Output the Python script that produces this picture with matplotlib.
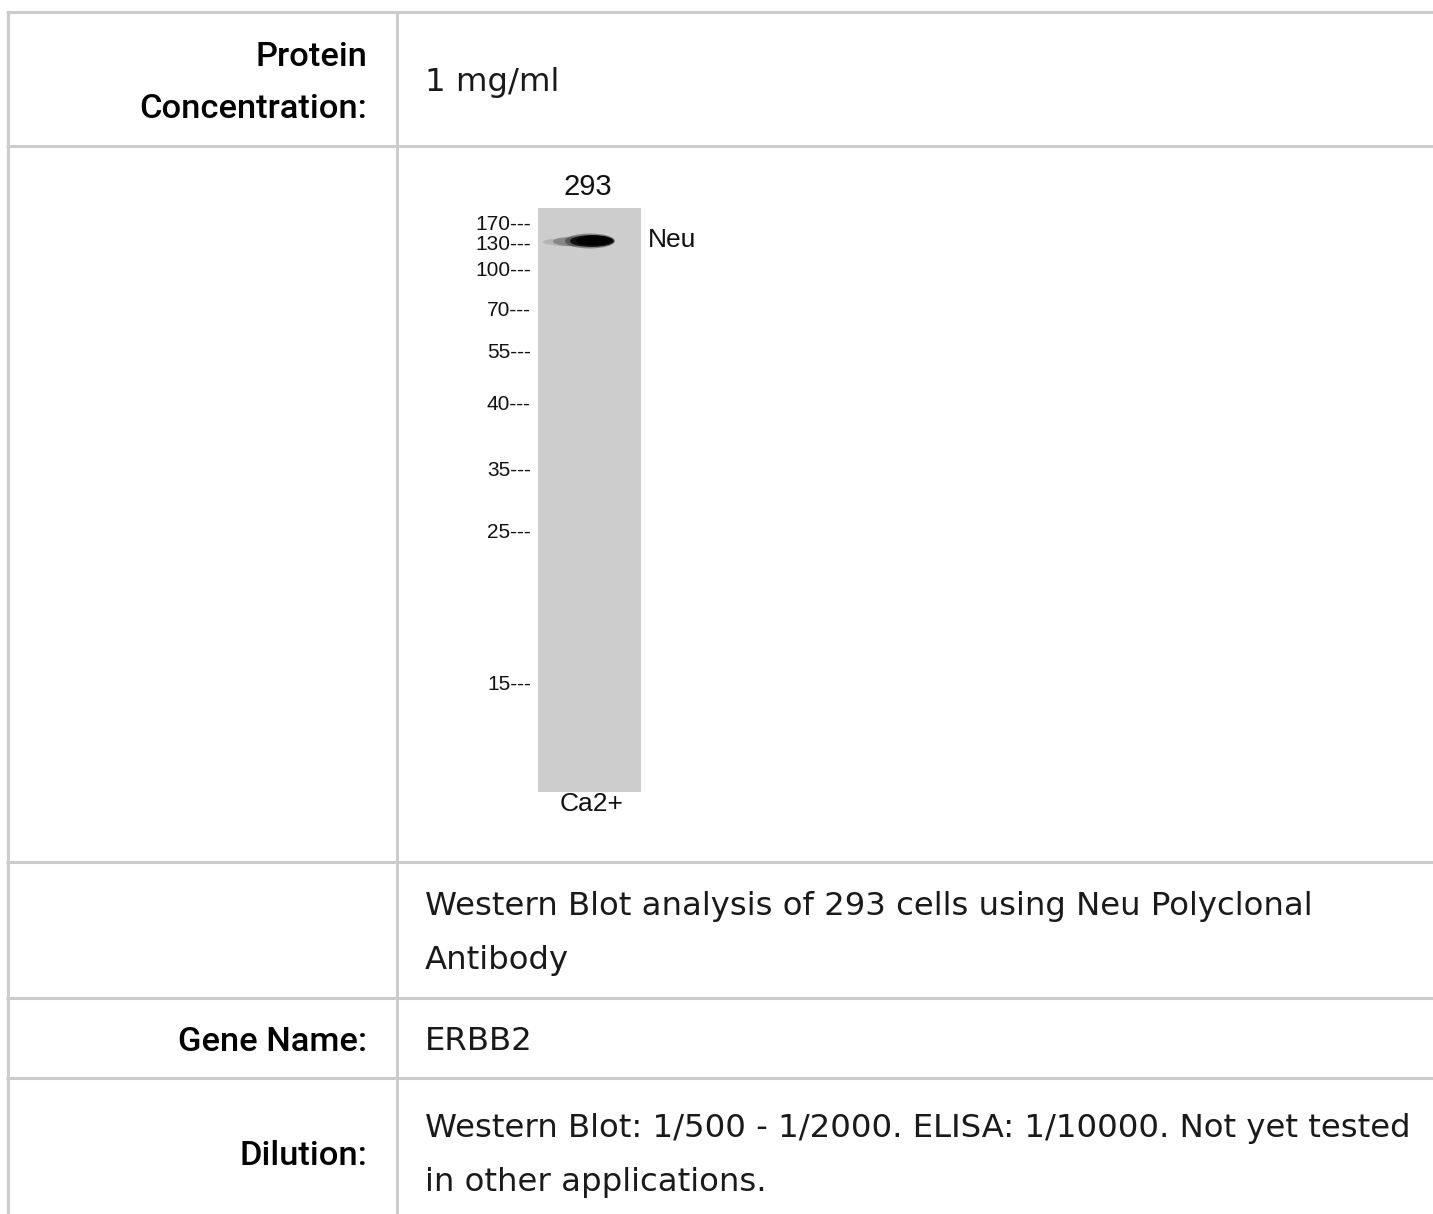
import matplotlib.pyplot as plt
from matplotlib.patches import Rectangle, Ellipse

# table contents
row_labels = [["Protein", "Concentration:"], [], [], ["Gene Name:"], ["Dilution:"]]
row_values = [
    ["1 mg/ml"],
    [],
    ["Western Blot analysis of 293 cells using Neu Polyclonal", "Antibody"],
    ["ERBB2"],
    ["Western Blot: 1/500 - 1/2000. ELISA: 1/10000. Not yet tested", "in other applications."],
]

# blot contents
lane_name = "293"
lane_treatment = "Ca2+"
band_name = "Neu"
marker_labels = ["170", "130", "100", "70", "55", "40", "35", "25", "15"]
marker_y = [224, 245, 271, 310, 352, 404, 470, 533, 685]

W, H = 1433, 1214
LINE = "#cccccc"
row_edges = [12, 146, 862, 998, 1078, 1226]
col_x = [8, 397]
LABEL_FONT = ["Roboto", "DejaVu Sans"]
VALUE_FONT = ["DejaVu Sans"]
BLOT_FONT = ["Liberation Sans", "DejaVu Sans"]

fig = plt.figure(figsize=(W / 100, H / 100), dpi=100)
ax = fig.add_axes([0, 0, 1, 1])
ax.set_xlim(0, W)
ax.set_ylim(H, 0)
ax.axis("off")

# grid lines
for y in row_edges[:-1]:
    ax.plot([col_x[0] - 1.5, W], [y, y], color=LINE, lw=2.2, solid_capstyle="butt")
for x in col_x:
    ax.plot([x, x], [row_edges[0], H], color=LINE, lw=2.2, solid_capstyle="butt")

# text rows (placed on baselines)
for i in range(len(row_labels)):
    center = (row_edges[i] + row_edges[i + 1]) / 2
    labels = row_labels[i]
    for j, text in enumerate(labels):
        y = center + 13 + (j - (len(labels) - 1) / 2) * 53
        ax.text(367, y, text, ha="right", va="baseline", fontsize=24.8,
                family=LABEL_FONT, weight="medium", color="#000000")
    values = row_values[i]
    for j, text in enumerate(values):
        y = center + 12 + (j - (len(values) - 1) / 2) * 55
        ax.text(425, y, text, ha="left", va="baseline", fontsize=23.3,
                family=VALUE_FONT, color="#1a1a1a")

# western blot lane
ax.add_patch(Rectangle((538, 208), 103, 584, facecolor="#cdcdcd", edgecolor="none"))

# band with a faded tail on the left
ax.add_patch(Ellipse((568, 242), 50, 8, facecolor="black", alpha=0.12, edgecolor="none"))
ax.add_patch(Ellipse((576, 241.5), 46, 10, facecolor="black", alpha=0.25, edgecolor="none"))
ax.add_patch(Ellipse((590, 241), 50, 15, facecolor="black", alpha=0.35, edgecolor="none"))
ax.add_patch(Ellipse((592, 241), 44, 12, facecolor="black", alpha=0.8, edgecolor="none"))
ax.add_patch(Ellipse((594, 240.5), 36, 10, facecolor="black", edgecolor="none"))

ax.text(588, 187, lane_name, ha="center", va="center", fontsize=21,
        family=BLOT_FONT, color="#111111")
ax.text(592, 804, lane_treatment, ha="center", va="center", fontsize=19,
        family=BLOT_FONT, color="#111111")
ax.text(648, 240, band_name, ha="left", va="center", fontsize=19,
        family=BLOT_FONT, color="#111111")

for label, y in zip(marker_labels, marker_y):
    ax.text(531, y, label + "---", ha="right", va="center", fontsize=15,
            family=BLOT_FONT, color="#111111")

fig.savefig("out.png", dpi=100)
